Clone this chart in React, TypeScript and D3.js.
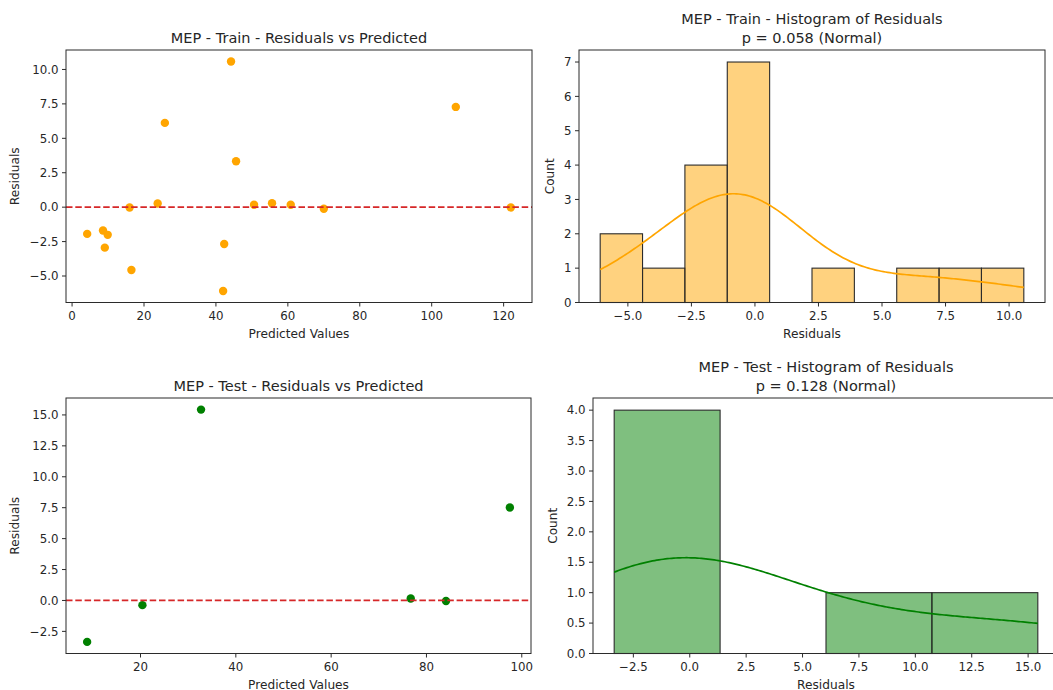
import * as d3 from 'd3';

// values
const trainPredicted = [44.2, 106.7, 25.8, 45.6, 16.0, 23.8, 50.6, 55.6, 60.8, 70.0, 122.0, 4.2, 8.6, 9.9, 9.1, 16.5, 42.3, 42.0];
const trainResiduals = [10.58, 7.28, 6.12, 3.33, -0.02, 0.27, 0.17, 0.29, 0.17, -0.12, -0.02, -1.94, -1.7, -2.01, -2.94, -4.56, -2.67, -6.09];
const testPredicted = [8.8, 20.4, 32.7, 76.7, 84.1, 97.5];
const testResiduals = [-3.35, -0.38, 15.43, 0.16, -0.05, 7.51];

const trainBins = 10;
const testBins = 4;

const trainScatterXTicks = [0, 20, 40, 60, 80, 100, 120];
const trainScatterYTicks = [-5, -2.5, 0, 2.5, 5, 7.5, 10];
const trainHistXTicks = [-5, -2.5, 0, 2.5, 5, 7.5, 10];
const trainHistYTicks = [0, 1, 2, 3, 4, 5, 6, 7];
const testScatterXTicks = [20, 40, 60, 80, 100];
const testScatterYTicks = [-2.5, 0, 2.5, 5, 7.5, 10, 12.5, 15];
const testHistXTicks = [-2.5, 0, 2.5, 5, 7.5, 10, 12.5, 15];
const testHistYTicks = [0, 0.5, 1, 1.5, 2, 2.5, 3, 3.5, 4];

const FONT = '"DejaVu Sans", Verdana, sans-serif';
const INK = '#262626';
const TICK_FS = 11.8;
const LABEL_FS = 12.2;
const TITLE_FS = 14.5;

const fmtInt = d3.format('d');
const fmt1 = d3.format('.1f');

// matplotlib-style 5% autoscale margin
const padded = (lo: number, hi: number): [number, number] => {
  const m = (hi - lo) * 0.05;
  return [lo - m, hi + m];
};

function Frame({ box, x, y, xTicks, yTicks, xFmt, yFmt, xLabel, yLabel, yLabelX, titles }: any) {
  const midX = (box.l + box.r) / 2;
  const midY = (box.t + box.b) / 2;
  return (
    <g fontFamily={FONT} fill={INK}>
      <rect x={box.l} y={box.t} width={box.r - box.l} height={box.b - box.t} fill="none" stroke="#2b2b2b" strokeWidth={1} />
      {xTicks.map((t: number) => (
        <g key={'x' + t}>
          <line x1={x(t)} x2={x(t)} y1={box.b} y2={box.b + 4} stroke="#2b2b2b" />
          <text x={x(t)} y={box.b + 17.2} fontSize={TICK_FS} textAnchor="middle">{xFmt(t)}</text>
        </g>
      ))}
      {yTicks.map((t: number) => (
        <g key={'y' + t}>
          <line x1={box.l - 4} x2={box.l} y1={y(t)} y2={y(t)} stroke="#2b2b2b" />
          <text x={box.l - 7.5} y={y(t)} dy="0.36em" fontSize={TICK_FS} textAnchor="end">{yFmt(t)}</text>
        </g>
      ))}
      <text x={midX} y={box.b + 35} fontSize={LABEL_FS} textAnchor="middle">{xLabel}</text>
      <text transform={`translate(${yLabelX},${midY}) rotate(-90)`} dy="0.36em" fontSize={LABEL_FS} textAnchor="middle">{yLabel}</text>
      {titles.map((s: string, i: number) => (
        <text key={s} x={midX} y={box.t - 7.5 - (titles.length - 1 - i) * 19} fontSize={TITLE_FS} textAnchor="middle">{s}</text>
      ))}
    </g>
  );
}

function ScatterPanel({ box, xs, ys, color, xTicks, yTicks, title, yLabelX }: any) {
  const [xMin, xMax] = d3.extent(xs) as [number, number];
  const [yMin, yMax] = d3.extent([...ys, 0]) as [number, number];
  const x = d3.scaleLinear().domain(padded(xMin, xMax)).range([box.l, box.r]);
  const y = d3.scaleLinear().domain(padded(yMin, yMax)).range([box.b, box.t]);
  return (
    <g>
      {xs.map((v: number, i: number) => (
        <circle key={i} cx={x(v)} cy={y(ys[i])} r={4.2} fill={color} />
      ))}
      <line x1={box.l} x2={box.r} y1={y(0)} y2={y(0)} stroke="#d62728" strokeWidth={1.7} strokeDasharray="6.5,2.8" />
      <Frame box={box} x={x} y={y} xTicks={xTicks} yTicks={yTicks} xFmt={fmtInt} yFmt={fmt1}
        xLabel="Predicted Values" yLabel="Residuals" yLabelX={yLabelX} titles={[title]} />
    </g>
  );
}

function HistPanel({ box, values, nBins, color, xTicks, yTicks, yFmt, titles, yLabelX }: any) {
  const [lo, hi] = d3.extent(values) as [number, number];
  const w = (hi - lo) / nBins;
  const edges = d3.range(1, nBins).map((i) => lo + i * w);
  const bins = d3.bin().domain([lo, hi]).thresholds(edges)(values);
  const maxCount = d3.max(bins, (b) => b.length) as number;
  const x = d3.scaleLinear().domain(padded(lo, hi)).range([box.l, box.r]);
  const y = d3.scaleLinear().domain([0, maxCount * 1.05]).range([box.b, box.t]);

  // gaussian KDE (Scott's rule), scaled to counts like seaborn's histplot
  const n = values.length;
  const bw = (d3.deviation(values) as number) * Math.pow(n, -0.2);
  const grid = d3.range(200).map((i) => lo + (i * (hi - lo)) / 199);
  const kde = grid.map((g) => {
    const dens = (d3.mean(values, (v: number) => Math.exp(-0.5 * ((g - v) / bw) ** 2)) as number) / (bw * Math.sqrt(2 * Math.PI));
    return [g, dens * n * w] as [number, number];
  });
  const line = d3.line<[number, number]>().x((d) => x(d[0])).y((d) => y(d[1]));

  return (
    <g>
      {bins.filter((b) => b.length > 0).map((b, i) => (
        <rect key={i} x={x(b.x0 as number)} y={y(b.length)} width={x(b.x1 as number) - x(b.x0 as number)}
          height={y(0) - y(b.length)} fill={color} fillOpacity={0.5} stroke="#2b2b2b" strokeWidth={1.1} />
      ))}
      <path d={line(kde) as string} fill="none" stroke={color} strokeWidth={1.7} />
      <Frame box={box} x={x} y={y} xTicks={xTicks} yTicks={yTicks} xFmt={fmt1} yFmt={yFmt}
        xLabel="Residuals" yLabel="Count" yLabelX={yLabelX} titles={titles} />
    </g>
  );
}

export default function App() {
  return (
    <svg width={1053} height={690} style={{ position: 'absolute', left: 0, top: 0, background: '#fff', overflow: 'hidden' }}>
      <ScatterPanel box={{ l: 66, r: 532, t: 50, b: 302.5 }} xs={trainPredicted} ys={trainResiduals} color="#FFA500"
        xTicks={trainScatterXTicks} yTicks={trainScatterYTicks} title="MEP - Train - Residuals vs Predicted" yLabelX={15} />
      <HistPanel box={{ l: 579, r: 1045, t: 50, b: 302.5 }} values={trainResiduals} nBins={trainBins} color="#FFA500"
        xTicks={trainHistXTicks} yTicks={trainHistYTicks} yFmt={fmtInt}
        titles={['MEP - Train - Histogram of Residuals', 'p = 0.058 (Normal)']} yLabelX={550} />
      <ScatterPanel box={{ l: 66, r: 531, t: 398, b: 653.5 }} xs={testPredicted} ys={testResiduals} color="#008000"
        xTicks={testScatterXTicks} yTicks={testScatterYTicks} title="MEP - Test - Residuals vs Predicted" yLabelX={15} />
      <HistPanel box={{ l: 593, r: 1059, t: 398, b: 653.5 }} values={testResiduals} nBins={testBins} color="#008000"
        xTicks={testHistXTicks} yTicks={testHistYTicks} yFmt={fmt1}
        titles={['MEP - Test - Histogram of Residuals', 'p = 0.128 (Normal)']} yLabelX={552.5} />
    </svg>
  );
}
